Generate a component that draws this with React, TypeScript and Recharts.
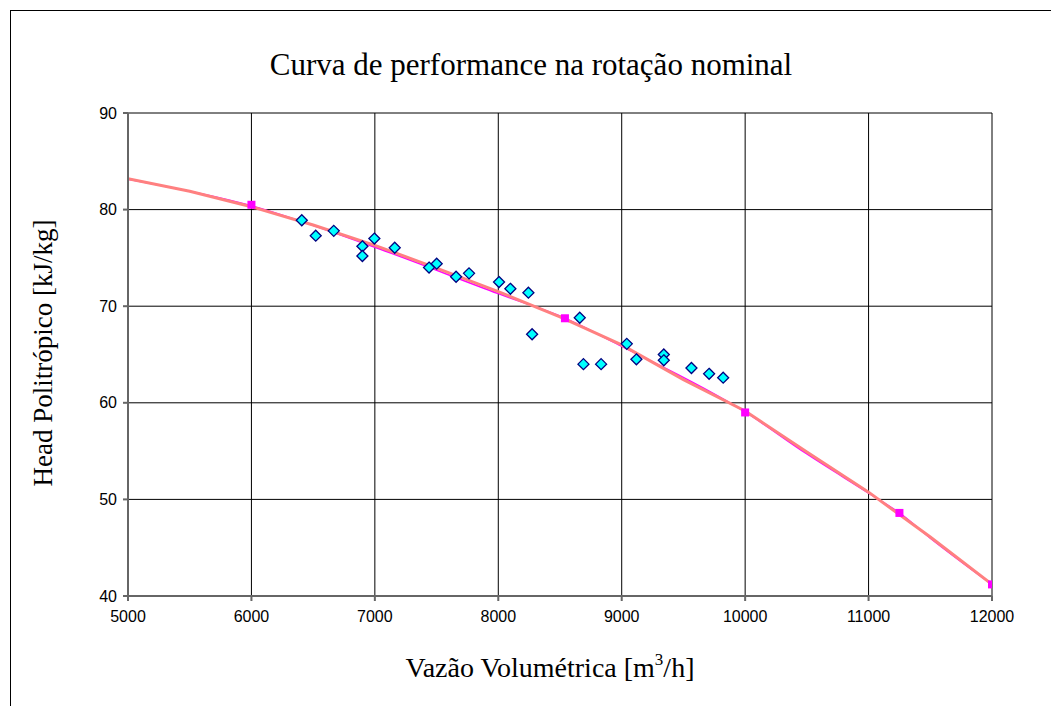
import React from "react";
import {
  ComposedChart,
  Line,
  Scatter,
  XAxis,
  YAxis,
  CartesianGrid,
} from "recharts";

// Measured points (blue diamonds)
const measuredFlow = [
  6408, 6521, 6667, 6899, 6899, 6996, 7161, 7439, 7501, 7658, 7763, 8006,
  8098, 8244, 8274, 8660, 8690, 8833, 9041, 9119, 9341, 9341, 9565, 9708,
  9822,
];
const measuredHead = [
  78.9, 77.3, 77.8, 76.2, 75.2, 77.0, 76.05, 74.0, 74.4, 73.05, 73.4, 72.5,
  71.8, 71.4, 67.1, 68.8, 64.0, 64.0, 66.1, 64.5, 65.0, 64.4, 63.6, 63.0,
  62.6,
];

// Nominal curve (magenta squares + smooth line under the trend)
const nominalFlow = [6000, 8540, 10000, 11250, 12000];
const nominalHead = [80.5, 68.75, 59.0, 48.6, 41.2];
const nominalLineFlow = [
  5000, 6000, 7000, 8000, 8540, 9000, 10000, 10500, 11000, 11250, 11500, 12000,
];
const nominalLineHead = [
  83.15, 80.4, 76.1, 71.3, 68.75, 65.85, 59.05, 54.7, 50.65, 48.6, 46.0, 41.2,
];

// Trend line (salmon), read at 500 m3/h steps
const trendFlow = [
  5000, 5500, 6000, 6500, 7000, 7500, 8000, 8500, 9000, 9500, 10000, 10500,
  11000, 11500, 12000,
];
const trendHead = [
  83.2, 81.9, 80.3, 78.4, 76.3, 73.95, 71.5, 68.9, 66.0, 62.4, 59.15, 54.9,
  50.75, 46.1, 41.2,
];

const xTicks = [5000, 6000, 7000, 8000, 9000, 10000, 11000, 12000];
const yTicks = [40, 50, 60, 70, 80, 90];

const zip = (xs: number[], ys: number[]) =>
  xs.map((x, i) => ({ x, y: ys[i] }));

const measured = zip(measuredFlow, measuredHead);
const nominal = zip(nominalFlow, nominalHead);
const nominalLine = zip(nominalLineFlow, nominalLineHead);
const trend = zip(trendFlow, trendHead);

const Diamond = (props: any) => {
  const { cx, cy } = props;
  if (cx == null || cy == null) return null;
  const r = 5.5;
  return (
    <polygon
      points={`${cx},${cy - r} ${cx + r},${cy} ${cx},${cy + r} ${cx - r},${cy}`}
      fill="#00FFFF"
      stroke="#000080"
      strokeWidth={1.3}
    />
  );
};

const Square = (props: any) => {
  const { cx, cy } = props;
  if (cx == null || cy == null) return null;
  return <rect x={cx - 4} y={cy - 4} width={8} height={8} fill="#FF00FF" />;
};

const tickStyle = {
  fontFamily: "'Liberation Sans', Arial, sans-serif",
  fontSize: 16,
  fill: "#000",
};

const serif = "'Liberation Serif', 'Times New Roman', serif";

export default function App() {
  return (
    <div
      style={{
        position: "fixed",
        left: 0,
        top: 0,
        width: 1051,
        height: 706,
        overflow: "hidden",
        background: "#fff",
      }}
    >
      {/* outer chart frame */}
      <div
        style={{
          position: "absolute",
          left: 10,
          top: 10,
          width: 1100,
          height: 800,
          border: "1px solid #000",
        }}
      />
      <ComposedChart
        width={1051}
        height={706}
        margin={{ top: 113, right: 59, bottom: 70, left: 68 }}
        style={{ position: "absolute", left: 0, top: 0 }}
      >
        <CartesianGrid stroke="#000" strokeWidth={1} />
        <XAxis
          type="number"
          dataKey="x"
          domain={[5000, 12000]}
          ticks={xTicks}
          allowDataOverflow
          stroke="#666"
          strokeWidth={2}
          tickSize={5}
          tick={tickStyle}
          tickMargin={10}
          height={40}
        />
        <YAxis
          type="number"
          dataKey="y"
          domain={[40, 90]}
          ticks={yTicks}
          allowDataOverflow
          stroke="#666"
          strokeWidth={2}
          tickSize={5}
          tick={tickStyle}
          tickMargin={6}
          width={60}
        />
        <Line
          data={nominalLine}
          dataKey="y"
          type="monotone"
          stroke="#FF00FF"
          strokeWidth={1.5}
          dot={false}
          isAnimationActive={false}
        />
        <Line
          data={trend}
          dataKey="y"
          type="linear"
          stroke="#FF8080"
          strokeWidth={3}
          dot={false}
          isAnimationActive={false}
        />
        <Scatter
          data={nominal}
          dataKey="y"
          shape={<Square />}
          isAnimationActive={false}
        />
        <Scatter
          data={measured}
          dataKey="y"
          shape={<Diamond />}
          isAnimationActive={false}
        />
      </ComposedChart>
      <svg
        width={1051}
        height={706}
        style={{ position: "absolute", left: 0, top: 0, pointerEvents: "none" }}
      >
        <text
          x={531}
          y={75}
          textAnchor="middle"
          fontFamily={serif}
          fontSize={31}
          fill="#000"
        >
          Curva de performance na rotação nominal
        </text>
        <text
          x={550}
          y={677}
          textAnchor="middle"
          fontFamily={serif}
          fontSize={28}
          fill="#000"
        >
          Vazão Volumétrica [m
          <tspan fontSize={17} dy={-12}>
            3
          </tspan>
          <tspan dy={12}>/h]</tspan>
        </text>
        <text
          transform="translate(52, 353) rotate(-90)"
          textAnchor="middle"
          fontFamily={serif}
          fontSize={27}
          fill="#000"
        >
          Head Politrópico [kJ/kg]
        </text>
      </svg>
    </div>
  );
}
